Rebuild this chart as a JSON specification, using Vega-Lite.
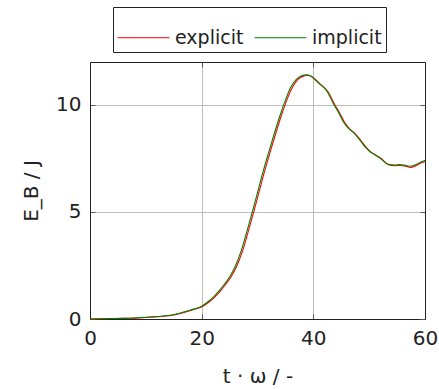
{
  "$schema": "https://vega.github.io/schema/vega-lite/v6.json",
  "autosize": "none",
  "width": 335,
  "height": 257,
  "padding": {"left": 90, "top": 62, "right": 14, "bottom": 70},
  "background": "white",
  "config": {
    "font": "DejaVu Sans",
    "view": {"stroke": "#222", "strokeWidth": 1},
    "axis": {"labelFont": "DejaVu Sans", "titleFont": "DejaVu Sans", "labelFontSize": 20, "titleFontSize": 20, "labelColor": "#222", "titleColor": "#222", "titleFontWeight": "normal", "domainColor": "#222", "tickColor": "#555", "gridColor": "#bdbdbd", "gridWidth": 1, "labelFlush": false, "labelOverlap": false}
  },
  "data": {"values": [
    {"t": 0, "E": 0.0, "series": "explicit"},
    {"t": 2, "E": 0.01, "series": "explicit"},
    {"t": 4, "E": 0.02, "series": "explicit"},
    {"t": 6, "E": 0.03, "series": "explicit"},
    {"t": 8, "E": 0.04, "series": "explicit"},
    {"t": 10, "E": 0.07, "series": "explicit"},
    {"t": 12.2, "E": 0.11, "series": "explicit"},
    {"t": 14.2, "E": 0.15, "series": "explicit"},
    {"t": 16.2, "E": 0.26, "series": "explicit"},
    {"t": 18.2, "E": 0.41, "series": "explicit"},
    {"t": 20.25, "E": 0.6, "series": "explicit"},
    {"t": 21.25, "E": 0.78, "series": "explicit"},
    {"t": 22.25, "E": 1.0, "series": "explicit"},
    {"t": 23.25, "E": 1.28, "series": "explicit"},
    {"t": 24.25, "E": 1.6, "series": "explicit"},
    {"t": 25.25, "E": 1.96, "series": "explicit"},
    {"t": 26.25, "E": 2.45, "series": "explicit"},
    {"t": 27.25, "E": 3.12, "series": "explicit"},
    {"t": 28.25, "E": 4.0, "series": "explicit"},
    {"t": 29.25, "E": 4.93, "series": "explicit"},
    {"t": 30.25, "E": 5.9, "series": "explicit"},
    {"t": 31.25, "E": 6.88, "series": "explicit"},
    {"t": 32.25, "E": 7.78, "series": "explicit"},
    {"t": 33.25, "E": 8.65, "series": "explicit"},
    {"t": 34.25, "E": 9.48, "series": "explicit"},
    {"t": 35.25, "E": 10.22, "series": "explicit"},
    {"t": 36.25, "E": 10.82, "series": "explicit"},
    {"t": 37.2, "E": 11.18, "series": "explicit"},
    {"t": 38.2, "E": 11.34, "series": "explicit"},
    {"t": 38.9, "E": 11.38, "series": "explicit"},
    {"t": 39.7, "E": 11.32, "series": "explicit"},
    {"t": 40.2, "E": 11.22, "series": "explicit"},
    {"t": 41.2, "E": 10.98, "series": "explicit"},
    {"t": 42.6, "E": 10.62, "series": "explicit"},
    {"t": 43.8, "E": 10.03, "series": "explicit"},
    {"t": 44.7, "E": 9.63, "series": "explicit"},
    {"t": 45.6, "E": 9.18, "series": "explicit"},
    {"t": 46.5, "E": 8.88, "series": "explicit"},
    {"t": 47.4, "E": 8.68, "series": "explicit"},
    {"t": 48.4, "E": 8.38, "series": "explicit"},
    {"t": 49.5, "E": 8.0, "series": "explicit"},
    {"t": 50.4, "E": 7.78, "series": "explicit"},
    {"t": 51.2, "E": 7.65, "series": "explicit"},
    {"t": 52.2, "E": 7.48, "series": "explicit"},
    {"t": 53.5, "E": 7.2, "series": "explicit"},
    {"t": 54.5, "E": 7.16, "series": "explicit"},
    {"t": 55.5, "E": 7.17, "series": "explicit"},
    {"t": 56.5, "E": 7.14, "series": "explicit"},
    {"t": 57.4, "E": 7.08, "series": "explicit"},
    {"t": 58.3, "E": 7.15, "series": "explicit"},
    {"t": 59.2, "E": 7.27, "series": "explicit"},
    {"t": 60, "E": 7.35, "series": "explicit"},
    {"t": 0, "E": 0.0, "series": "implicit"},
    {"t": 2, "E": 0.01, "series": "implicit"},
    {"t": 4, "E": 0.02, "series": "implicit"},
    {"t": 6, "E": 0.03, "series": "implicit"},
    {"t": 8, "E": 0.05, "series": "implicit"},
    {"t": 10, "E": 0.08, "series": "implicit"},
    {"t": 12, "E": 0.12, "series": "implicit"},
    {"t": 14, "E": 0.16, "series": "implicit"},
    {"t": 16, "E": 0.27, "series": "implicit"},
    {"t": 18, "E": 0.42, "series": "implicit"},
    {"t": 20, "E": 0.6, "series": "implicit"},
    {"t": 21, "E": 0.78, "series": "implicit"},
    {"t": 22, "E": 1.0, "series": "implicit"},
    {"t": 23, "E": 1.28, "series": "implicit"},
    {"t": 24, "E": 1.6, "series": "implicit"},
    {"t": 25, "E": 1.96, "series": "implicit"},
    {"t": 26, "E": 2.45, "series": "implicit"},
    {"t": 27, "E": 3.12, "series": "implicit"},
    {"t": 28, "E": 4.0, "series": "implicit"},
    {"t": 29, "E": 4.93, "series": "implicit"},
    {"t": 30, "E": 5.9, "series": "implicit"},
    {"t": 31, "E": 6.88, "series": "implicit"},
    {"t": 32, "E": 7.78, "series": "implicit"},
    {"t": 33, "E": 8.65, "series": "implicit"},
    {"t": 34, "E": 9.48, "series": "implicit"},
    {"t": 35, "E": 10.22, "series": "implicit"},
    {"t": 36, "E": 10.84, "series": "implicit"},
    {"t": 37, "E": 11.2, "series": "implicit"},
    {"t": 38, "E": 11.37, "series": "implicit"},
    {"t": 38.7, "E": 11.4, "series": "implicit"},
    {"t": 39.5, "E": 11.35, "series": "implicit"},
    {"t": 40, "E": 11.25, "series": "implicit"},
    {"t": 41, "E": 11.0, "series": "implicit"},
    {"t": 42.4, "E": 10.65, "series": "implicit"},
    {"t": 43.6, "E": 10.05, "series": "implicit"},
    {"t": 44.5, "E": 9.65, "series": "implicit"},
    {"t": 45.4, "E": 9.2, "series": "implicit"},
    {"t": 46.3, "E": 8.9, "series": "implicit"},
    {"t": 47.2, "E": 8.7, "series": "implicit"},
    {"t": 48.2, "E": 8.4, "series": "implicit"},
    {"t": 49.3, "E": 8.02, "series": "implicit"},
    {"t": 50.2, "E": 7.8, "series": "implicit"},
    {"t": 51, "E": 7.67, "series": "implicit"},
    {"t": 52, "E": 7.5, "series": "implicit"},
    {"t": 53.4, "E": 7.22, "series": "implicit"},
    {"t": 54.5, "E": 7.19, "series": "implicit"},
    {"t": 55.5, "E": 7.21, "series": "implicit"},
    {"t": 56.5, "E": 7.18, "series": "implicit"},
    {"t": 57.3, "E": 7.13, "series": "implicit"},
    {"t": 58.2, "E": 7.19, "series": "implicit"},
    {"t": 59.1, "E": 7.31, "series": "implicit"},
    {"t": 60, "E": 7.4, "series": "implicit"}
  ]},
  "layer": [
    {
      "transform": [{"filter": "datum.series === 'explicit'"}],
      "mark": {"type": "line", "strokeWidth": 1.1, "interpolate": "monotone"},
      "encoding": {
        "x": {"field": "t", "type": "quantitative", "scale": {"domain": [0, 60], "nice": false},
          "axis": {"values": [0, 20, 40, 60], "title": "t · ω / -", "tickSize": -5, "labelPadding": 14, "titlePadding": 18, "grid": true}},
        "y": {"field": "E", "type": "quantitative", "scale": {"domain": [0, 12], "nice": false},
          "axis": {"values": [0, 5, 10], "title": "E_B / J", "tickSize": -5, "labelPadding": 14, "titlePadding": 14, "grid": true}},
        "color": {"field": "series", "type": "nominal",
          "scale": {"domain": ["explicit", "implicit"], "range": ["#ff0000", "#008000"]},
          "legend": {"orient": "none", "legendX": 23, "legendY": -55, "direction": "horizontal", "title": null,
            "symbolType": "stroke", "symbolSize": 2700, "symbolStrokeWidth": 1, "labelFontSize": 19, "labelFont": "DejaVu Sans", "labelColor": "#222",
            "strokeColor": "#222", "padding": 4, "columnPadding": 8, "labelOffset": 5}}
      }
    },
    {
      "transform": [{"filter": "datum.series === 'implicit'"}],
      "mark": {"type": "line", "strokeWidth": 1.1, "interpolate": "monotone"},
      "encoding": {
        "x": {"field": "t", "type": "quantitative",
          "axis": {"orient": "top", "values": [0, 20, 40, 60], "labels": false, "title": null, "tickSize": -5, "grid": false}},
        "y": {"field": "E", "type": "quantitative",
          "axis": {"orient": "right", "values": [0, 5, 10], "labels": false, "title": null, "tickSize": -5, "grid": false}},
        "color": {"field": "series", "type": "nominal"}
      }
    }
  ],
  "resolve": {"axis": {"x": "independent", "y": "independent"}}
}
